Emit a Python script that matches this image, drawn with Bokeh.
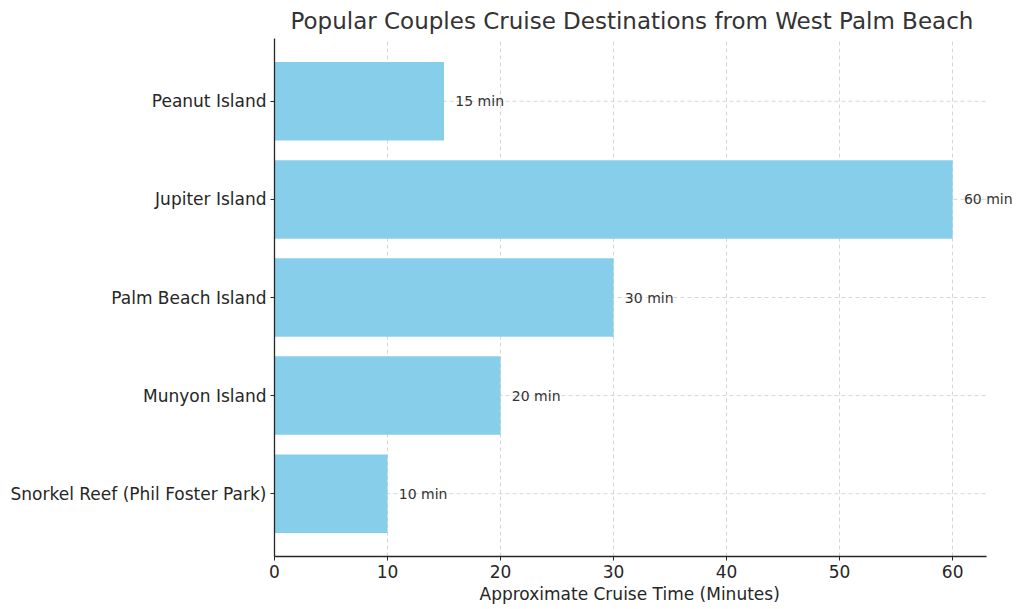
from bokeh.plotting import figure
from bokeh.models import ColumnDataSource, FixedTicker, Range1d, Label, Title
from bokeh.embed import file_html
from bokeh.resources import INLINE

destinations = ["Snorkel Reef (Phil Foster Park)", "Munyon Island", "Palm Beach Island",
                "Jupiter Island", "Peanut Island"]
minutes = [10, 20, 30, 60, 15]
labels = ["10 min", "20 min", "30 min", "60 min", "15 min"]
x_ticks = [0, 10, 20, 30, 40, 50, 60]
XMAX = 63  # end of the x axis

pos = list(range(len(destinations)))
src = ColumnDataSource(data=dict(y=pos, right=minutes))

FONT = "DejaVu Sans"

# frame is a bit wider than the axis so the "60 min" label is not clipped
p = figure(width=1016, height=604, output_backend="svg", toolbar_location=None,
           x_range=Range1d(0, 65.65), y_range=Range1d(-0.64, 4.64),
           min_border_left=274, min_border_right=0, min_border_top=36,
           min_border_bottom=30)

p.add_layout(Title(text="Popular Couples Cruise Destinations from West Palm Beach",
                   align="left", offset=16, text_font=FONT, text_font_size="23px",
                   text_font_style="normal", text_color="#333333"), "above")

# horizontal grid lines, stopping at the end of the axis
p.segment(x0=0, x1=XMAX, y0=pos, y1=pos, line_color="#cccccc",
          line_dash="4 3", line_width=0.8)

p.hbar(y="y", right="right", left=0, height=0.8, source=src,
       color="#87CEEB", line_color=None)

for yy, m, lab in zip(pos, minutes, labels):
    p.add_layout(Label(x=m + 1, y=yy, text=lab, text_font_size="14px",
                       text_color="#333333", text_baseline="middle",
                       text_align="left", text_font=FONT))

p.outline_line_color = None
p.xaxis.ticker = FixedTicker(ticks=x_ticks)
p.xaxis.bounds = (0, XMAX)
p.yaxis.ticker = FixedTicker(ticks=pos)
p.yaxis.major_label_overrides = {i: d for i, d in enumerate(destinations)}

for ax in (p.xaxis, p.yaxis):
    ax.axis_line_color = "#262626"
    ax.axis_line_width = 1.3
    ax.major_tick_line_color = "#262626"
    ax.major_tick_in = 0
    ax.major_tick_out = 4
    ax.minor_tick_line_color = None
    ax.major_label_text_font = FONT
    ax.major_label_text_font_size = "17px"
    ax.major_label_text_color = "#262626"

p.xaxis.major_label_standoff = 4
p.yaxis.major_label_standoff = 4

p.add_layout(Title(text="Approximate Cruise Time (Minutes)", align="left", offset=205,
                   standoff=2, text_font=FONT, text_font_size="17px",
                   text_font_style="normal", text_color="#262626"), "below")

p.ygrid.grid_line_color = None
p.xgrid.grid_line_color = "#cccccc"
p.xgrid.grid_line_dash = "4 3"
p.xgrid.grid_line_width = 0.8

open("out.html", "w").write(file_html(p, INLINE))
